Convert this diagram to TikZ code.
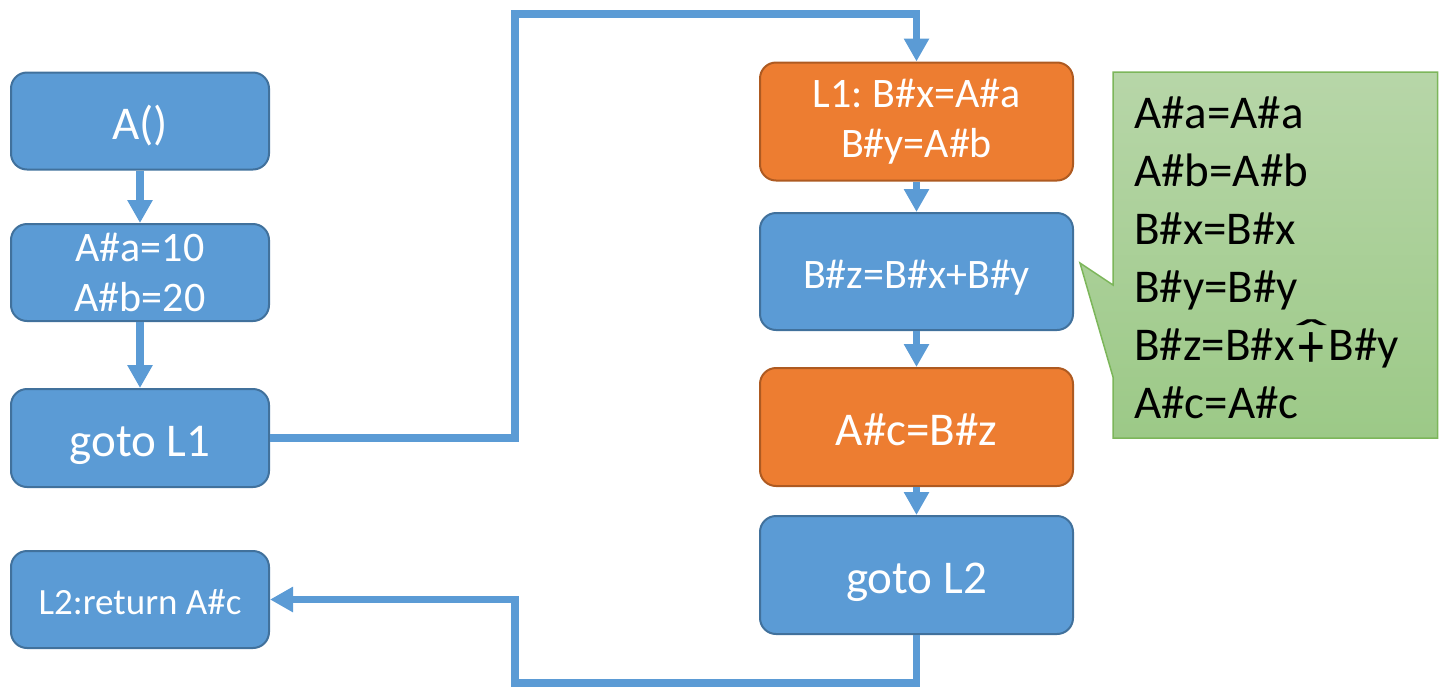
\documentclass[tikz,border=0pt]{standalone}
\usepackage{fontspec}
\usepackage{graphicx}
\setmainfont{Carlito}
\frenchspacing
\usetikzlibrary{arrows.meta}
\definecolor{bfill}{HTML}{5B9BD5}
\definecolor{bline}{HTML}{41719C}
\definecolor{ofill}{HTML}{ED7D31}
\definecolor{oline}{HTML}{AE5A21}
\definecolor{gtop}{HTML}{B7D6A8}
\definecolor{gbot}{HTML}{9CC987}
\definecolor{gline}{HTML}{7CB65A}
\definecolor{lineblue}{HTML}{5B9BD5}
\newcommand{\hatplus}{\hspace{0.09em}\ooalign{\raisebox{-0.14em}{\scalebox{1.1}[1.35]{+}}\cr\hidewidth\raisebox{0.2em}{\scalebox{2.3}[1]{ˆ}}\hidewidth\cr}\hspace{0.09em}}
\tikzset{
 box/.style={draw=bline, fill=bfill, line width=2pt, rounded corners=16pt, text=white, align=center, inner sep=0pt},
 obox/.style={box, draw=oline, fill=ofill},
 lbox/.style={minimum width=258pt, minimum height=97pt},
 rbox/.style={minimum width=313pt, minimum height=118pt},
 conn/.style={draw=lineblue, line width=7.5pt, -{Triangle[length=23pt,width=24pt]}},
 big/.style={font=\fontsize{47}{56}\selectfont, text height=47pt, text depth=10pt},
 mid/.style={font=\fontsize{42}{50}\selectfont},
 midone/.style={mid, text height=42pt, text depth=8.4pt},
 small/.style={font=\fontsize{37}{44}\selectfont, text height=37pt, text depth=6.6pt},
}
\begin{document}
\begin{tikzpicture}[x=1pt,y=-1pt]
\useasboundingbox (0,0) rectangle (1439,686);
% callout
\shadedraw[top color=gtop, bottom color=gbot, draw=gline, line width=1.5pt, line join=miter]
  (1113,72) -- (1437.5,72) -- (1437.5,438) -- (1113,438) -- (1113,377) -- (1080,263) -- (1113,285) -- cycle;
\node[anchor=west, align=left, font=\fontsize{47}{58}\selectfont, inner sep=0pt, text=black] (note) at (1134,258)
  {A\#a=A\#a\\A\#b=A\#b\\B\#x=B\#x\\B\#y=B\#y\\B\#z=B\#x\hatplus B\#y\\A\#c=A\#c};
% left column
\node[box,lbox,big] (a) at (140,121) {A()};
\node[box,lbox,mid] (b) at (140,272.5) {\raisebox{-3pt}{A\#a=10}\\\raisebox{-3pt}{A\#b=20}};
\node[box,lbox,big,minimum height=98pt] (c) at (140,438) {goto L1};
\node[box,lbox,small] (r) at (140,599.5) {L2:return A\#c};
% right column
\node[obox,rbox,mid] (l1) at (916.5,121.5) {\raisebox{-4pt}{L1: B\#x=A\#a}\\\raisebox{-4pt}{B\#y=A\#b}};
\node[box,rbox,midone,minimum height=117pt] (z) at (916.5,271.5) {B\#z=B\#x+B\#y};
\node[obox,rbox,big] (ac) at (916.5,427) {A\#c=B\#z};
\node[box,rbox,big] (g2) at (916.5,575) {goto L2};
% connectors
\coordinate (t1) at (515,14);
\coordinate (t2) at (916.5,14);
\coordinate (u1) at (916.5,683);
\coordinate (u2) at (515,683);
\draw[conn] (a) -- (b);
\draw[conn] (b) -- (c);
\draw[conn] (c.east) -| (t1) -- (t2) -- (l1.north);
\draw[conn] (l1) -- (z);
\draw[conn] (z) -- (ac);
\draw[conn] (ac) -- (g2);
\draw[conn] (g2.south) -- (u1) -- (u2) |- (r.east);
\end{tikzpicture}
\end{document}
